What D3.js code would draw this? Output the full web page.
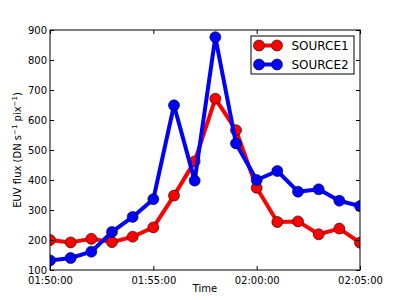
<!DOCTYPE html>
<html>
<head>
<meta charset="utf-8">
<script src="https://cdn.jsdelivr.net/npm/d3@7"></script>
<style>
  body { margin: 0; background: #fff; }
  text { font-family: "DejaVu Sans", sans-serif; }
</style>
</head>
<body>
<script>
// one sample per minute, 01:50 .. 02:05
const times = ["01:50","01:51","01:52","01:53","01:54","01:55","01:56","01:57",
               "01:58","01:59","02:00","02:01","02:02","02:03","02:04","02:05"];
const source1 = [200, 192, 204, 193, 211, 242, 348, 462, 671, 566, 374, 260, 262, 219, 238, 191];
const source2 = [132, 140, 161, 227, 277, 336, 649, 398, 876, 522, 400, 430, 361, 369, 331, 313];
const xTicks = ["01:50:00", "01:55:00", "02:00:00", "02:05:00"];
const yTicks = [100, 200, 300, 400, 500, 600, 700, 800, 900];
const seriesNames = ["SOURCE1", "SOURCE2"];
const seriesColors = ["#ff0000", "#0000ff"];

const parseT = d3.timeParse("%H:%M");
const parseTick = d3.timeParse("%H:%M:%S");

const W = 400, H = 300;
const pLeft = 50, pRight = 360, pTop = 30, pBottom = 270;

const svg = d3.select("body").append("svg")
    .attr("width", W)
    .attr("height", H);

const x = d3.scaleTime()
    .domain([parseT("01:50"), parseT("02:05")])
    .range([pLeft, pRight]);
const y = d3.scaleLinear()
    .domain([100, 900])
    .range([pBottom, pTop]);

svg.append("defs").append("clipPath")
    .attr("id", "plotclip")
    .append("rect")
    .attr("x", pLeft).attr("y", pTop)
    .attr("width", pRight - pLeft).attr("height", pBottom - pTop);

// series
const series = [source1, source2];
const plot = svg.append("g").attr("clip-path", "url(#plotclip)");
const line = d3.line()
    .x((d, i) => x(parseT(times[i])))
    .y(d => y(d));

series.forEach((vals, s) => {
    plot.append("path")
        .datum(vals)
        .attr("d", line)
        .attr("fill", "none")
        .attr("stroke", seriesColors[s])
        .attr("stroke-width", 4)
        .attr("stroke-linejoin", "round");
    plot.selectAll(null)
        .data(vals)
        .enter()
        .append("circle")
        .attr("cx", (d, i) => x(parseT(times[i])))
        .attr("cy", d => y(d))
        .attr("r", 5.5)
        .attr("fill", seriesColors[s])
        .attr("stroke", "#000")
        .attr("stroke-width", 0.6);
});

// axes (ticks pointing inwards, mirrored on top/right)
const tickLen = 4;
const xTickDates = xTicks.map(t => parseTick(t));
const fmt = d3.timeFormat("%H:%M:%S");

const xBottom = svg.append("g")
    .attr("transform", `translate(0,${pBottom})`)
    .call(d3.axisBottom(x).tickValues(xTickDates).tickFormat(fmt).tickSizeInner(-tickLen).tickSizeOuter(0).tickPadding(7));
const xTop = svg.append("g")
    .attr("transform", `translate(0,${pTop})`)
    .call(d3.axisTop(x).tickValues(xTickDates).tickFormat("").tickSizeInner(-tickLen).tickSizeOuter(0));
const yLeft = svg.append("g")
    .attr("transform", `translate(${pLeft},0)`)
    .call(d3.axisLeft(y).tickValues(yTicks).tickSizeInner(-tickLen).tickSizeOuter(0).tickPadding(3));
const yRight = svg.append("g")
    .attr("transform", `translate(${pRight},0)`)
    .call(d3.axisRight(y).tickValues(yTicks).tickFormat("").tickSizeInner(-tickLen).tickSizeOuter(0));

[xBottom, xTop, yLeft, yRight].forEach(g => {
    g.select(".domain").remove();
    g.selectAll(".tick line").attr("stroke", "#000");
    g.selectAll("text")
        .attr("fill", "#000")
        .style("font-size", "10px")
        .style("font-family", "'DejaVu Sans', sans-serif");
});

// frame
svg.append("rect")
    .attr("x", pLeft).attr("y", pTop)
    .attr("width", pRight - pLeft).attr("height", pBottom - pTop)
    .attr("fill", "none")
    .attr("stroke", "#000")
    .attr("stroke-width", 1);

// axis labels
svg.append("text")
    .attr("x", (pLeft + pRight) / 2)
    .attr("y", 292)
    .attr("text-anchor", "middle")
    .style("font-size", "10px")
    .text("Time");

const ylab = svg.append("text")
    .attr("transform", `translate(21,${(pTop + pBottom) / 2}) rotate(-90)`)
    .attr("text-anchor", "middle")
    .style("font-size", "10px");
ylab.append("tspan").text("EUV flux (DN s");
ylab.append("tspan").attr("dy", -4).style("font-size", "7px").text("\u22121");
ylab.append("tspan").attr("dy", 4).text(" pix");
ylab.append("tspan").attr("dy", -4).style("font-size", "7px").text("\u22121");
ylab.append("tspan").attr("dy", 4).text(")");

// legend
const legend = svg.append("g");
legend.append("rect")
    .attr("x", 251).attr("y", 36)
    .attr("width", 103).attr("height", 38)
    .attr("fill", "#fff")
    .attr("stroke", "#000")
    .attr("stroke-width", 1);

seriesNames.forEach((name, i) => {
    const ly = 45.5 + i * 19;
    legend.append("line")
        .attr("x1", 259).attr("x2", 277)
        .attr("y1", ly).attr("y2", ly)
        .attr("stroke", seriesColors[i])
        .attr("stroke-width", 4);
    [259, 277].forEach(cx => {
        legend.append("circle")
            .attr("cx", cx).attr("cy", ly)
            .attr("r", 5.5)
            .attr("fill", seriesColors[i])
            .attr("stroke", "#000")
            .attr("stroke-width", 0.6);
    });
    legend.append("text")
        .attr("x", 291.5)
        .attr("y", ly + 4.5)
        .style("font-size", "12px")
        .text(name);
});
</script>
</body>
</html>
